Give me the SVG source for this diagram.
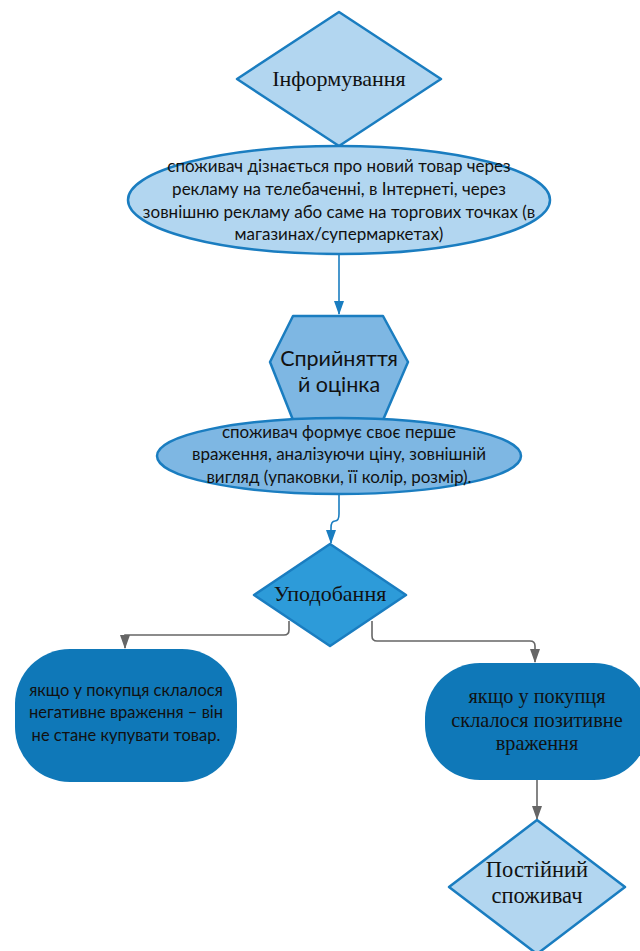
<svg xmlns="http://www.w3.org/2000/svg" width="640" height="951" viewBox="0 0 640 951">
<style>
.serif{font-family:"Liberation Serif","DejaVu Serif",serif;fill:#111;text-anchor:middle}
.sans{font-family:Lato,"Liberation Sans",sans-serif;fill:#111;text-anchor:middle}
.blue{stroke:#1a7dc0;stroke-width:2.5;stroke-linejoin:round}
.conn-b{fill:none;stroke:#1a7dc0;stroke-width:1.6}
.conn-g{fill:none;stroke:#666;stroke-width:1.6}
</style>
<defs>
<marker id="ab" viewBox="0 0 14 10" refX="13" refY="5" markerWidth="14" markerHeight="10" markerUnits="userSpaceOnUse" orient="auto"><path d="M0,0L14,5L0,10z" fill="#1a7dc0"/></marker>
<marker id="ag" viewBox="0 0 14 10" refX="13" refY="5" markerWidth="14" markerHeight="10" markerUnits="userSpaceOnUse" orient="auto"><path d="M0,0L14,5L0,10z" fill="#666"/></marker>
</defs>
<rect width="640" height="951" fill="#fff"/>
<g id="connectors">
<path class="conn-b" d="M339,254 L339,314" marker-end="url(#ab)"/>
<path class="conn-b" d="M339,494 L339,514 Q339,521 335,521 Q331,521 331,528 L331,543" marker-end="url(#ab)"/>
<path class="conn-g" d="M289,621 L289,630 Q289,635 284,635 L125,635 L125,648" marker-end="url(#ag)"/>
<path class="conn-g" d="M372,621 L372,636 Q372,641 377,641 L530,641 Q535,641 535,646 L535,662" marker-end="url(#ag)"/>
<path class="conn-g" d="M537,780 L537,819" marker-end="url(#ag)"/>
</g>
<g id="n1">
<path class="blue" d="M339,12 L441,79 L339,146 L237,79 Z" fill="#b2d6f0"/>
<text class="serif" x="339" y="86" font-size="22">Інформування</text>
</g>
<g id="n2">
<ellipse class="blue" cx="339" cy="200" rx="211" ry="54" fill="#b2d6f0"/>
<text class="sans" font-size="17"><tspan x="339" y="172">споживач дізнається про новий товар через</tspan><tspan x="339" y="195">рекламу на телебаченні, в Інтернеті, через</tspan><tspan x="339" y="218">зовнішню рекламу або саме на торгових точках (в</tspan><tspan x="339" y="240">магазинах/супермаркетах)</tspan></text>
</g>
<g id="n3">
<path class="blue" d="M293,316 L383,316 L408,362 L383,420 L293,420 L270,362 Z" fill="#7eb7e3"/>
<text class="sans" font-size="21.5"><tspan x="339" y="366">Сприйняття</tspan><tspan x="339" y="392">й оцінка</tspan></text>
</g>
<g id="n4">
<ellipse class="blue" cx="339" cy="456" rx="182" ry="38" fill="#7eb7e3"/>
<text class="sans" font-size="17"><tspan x="339" y="438">споживач формує своє перше</tspan><tspan x="339" y="460">враження, аналізуючи ціну, зовнішній</tspan><tspan x="339" y="483">вигляд (упаковки, її колір, розмір).</tspan></text>
</g>
<g id="n5">
<path class="blue" d="M330,544 L406,595 L330,646 L254,595 Z" fill="#2d9bd9"/>
<text class="serif" x="330" y="601" font-size="22">Уподобання</text>
</g>
<g id="n6">
<rect x="15" y="649" width="222" height="133" rx="55" ry="55" fill="#0f78b8"/>
<text class="sans" font-size="16.5"><tspan x="126" y="696">якщо у покупця склалося</tspan><tspan x="126" y="718">негативне враження – він</tspan><tspan x="126" y="741">не стане купувати товар.</tspan></text>
</g>
<g id="n7">
<rect x="425" y="663" width="224" height="117" rx="55" ry="55" fill="#0f78b8"/>
<text class="serif" font-size="20.3"><tspan x="537" y="703">якщо у покупця</tspan><tspan x="537" y="727">склалося позитивне</tspan><tspan x="537" y="750">враження</tspan></text>
</g>
<g id="n8">
<path class="blue" d="M537,820 L625,887 L537,954 L449,887 Z" fill="#b2d6f0"/>
<text class="serif" font-size="22.5"><tspan x="537" y="877">Постійний</tspan><tspan x="537" y="903">споживач</tspan></text>
</g>
</svg>
